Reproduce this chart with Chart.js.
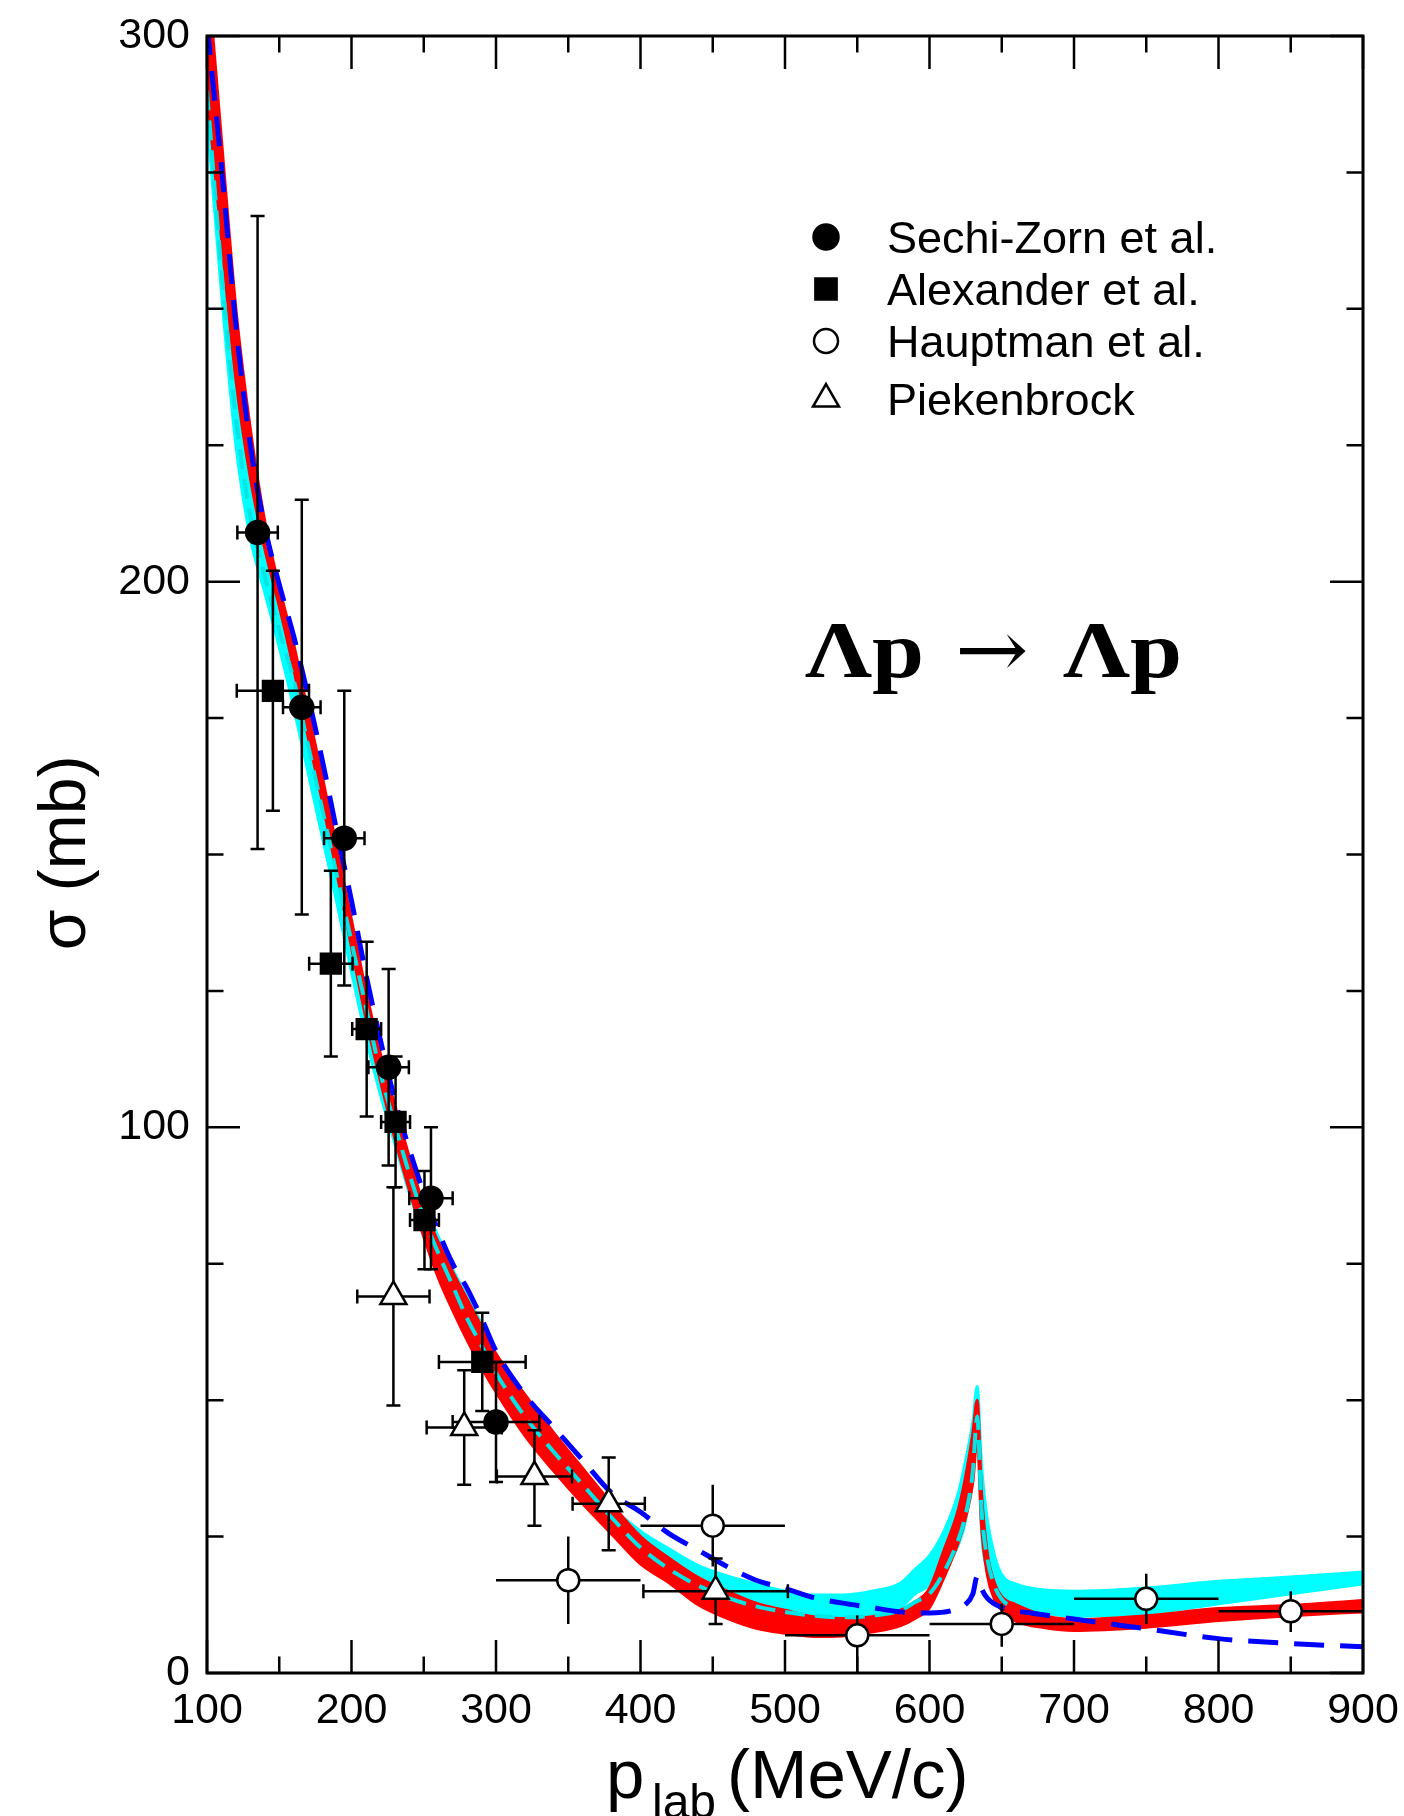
<!DOCTYPE html>
<html>
<head>
<meta charset="utf-8">
<script src="https://cdn.jsdelivr.net/npm/chart.js@4.4.1/dist/chart.umd.min.js"></script>
<style>
	html, body { margin: 0; padding: 0; background: #fff; }
	#wrap { width: 1404px; height: 1816px; position: relative; }
</style>
</head>
<body>
<div id="wrap"><canvas id="sigmaChart"></canvas></div>
<script>
// momentum grid shared by the two bands (MeV/c)
var bandP = [100,110,120,130,140,150,160,170,180,190,200,210,220,230,240,250,260,270,280,290,300,
	320,340,360,380,400,420,440,460,480,500,520,540,560,580,
	590,600,610,620,625,630,633,636,640,645,650,660,680,700,750,800,850,900];

// red band (mb)
var redLow = [290,263,237,219,206,195.5,184,171.5,159.5,146.5,133,120,108.5,98,88.5,80,72.5,66.5,61,56,51.5,
	43.5,37,31,25.5,20,16.5,12.5,10,8.2,7.3,6.7,6.8,7.5,8.7,
	10,12,17.5,24,28.5,35,43,27,18,13.5,11.5,9.5,8.3,7.8,8.4,9.6,10.5,11.2];
var redHigh = [313,281,250,228,211,199,188.5,176,164,151,138,125,113.5,104,94.5,85.5,79,73.5,68.5,63.5,58.5,
	51,44,37.5,31,25,21,17.5,15,12.8,11.5,10.3,10,10.3,11.5,
	13,15.5,22.5,30,36,44,50,33,22,16.5,14,12.5,10.5,9.8,10.5,11.8,12.4,13.3];

// cyan band (mb)
var cyanLow = [285,253,225,208,198,188,177,165,153,141,128.5,116.5,106,97,88,80,74,68.5,63,58,53.5,
	46,39,33,27,22.5,18.5,15.5,13.5,12,11,10.5,10.3,10.8,12,
	14.5,16,19,23.5,28,38,48,26,19,15.5,13.8,12.3,11,10.4,10.9,12.7,14.5,16.3];
var cyanHigh = [293,262,236,217,205,195,184,172,160,148,135.5,123,112,103,94,86,80,74,69,64,58.5,
	51,44,37,30.5,26,22.7,19.7,17.8,16.3,15,14.3,14.3,15,16.5,
	19,21.5,26,33,39,46,52.5,38,28,21.5,18,16.3,15.2,15,15.6,16.8,17.6,18.5];

// thin cyan dashed curve
var cyanDashP = [100,110,120,130,140,150,160,170,180,190,200,210,220,230,240,250,260,270,280,290,300,
	320,340,360,380,400,420,440,460,480,500,520,540,560,580,590,600,610,620,625,630,633,636,640,645,650,660];
var cyanDashS = [290,257,230,212,201,191,182,170,158,146,134,122,110,100.5,91.5,83.5,77,71,65,60,55,
	47,40.5,34.5,28.5,23,19,16,13.8,12.2,11.2,10.5,10.2,10.5,11.5,13,14.5,18.5,24.5,29,37,47,30,21,16,13.5,11.8];

// blue dashed curve
var blueP = [100,110,120,130,140,150,160,170,180,190,200,210,220,230,240,250,260,270,280,290,300,
	320,340,360,380,400,420,440,460,480,500,520,540,560,580,600,
	615,625,630,633,636,640,650,670,700,750,800,850,900];
var blueS = [302,276,247,225,210,199.5,190,179,167,154,141.5,128,116,105,96,88,81,75,70.5,65,59,
	51,45,39,33,29.5,25.5,22.5,19.5,17,15.5,13.8,12.8,12,11.2,11,
	11.4,12.6,14.5,17.7,15.5,13.7,12,11,9.9,8.1,6.3,5.4,4.8];

// experiments: p, sigma, p error, sigma error up / down
var sechiP = [135,165.6,195,225.7,255,300];
var sechiS = [209,177,153,111,87,46];
var sechiDp = [14,13,14,14,15,30];
var sechiUp = [58,38,27,18,13,11];
var sechiDn = [58,38,27,18,13,11];

var alexP = [145.6,185.7,210.5,230.5,250.5,290.5];
var alexS = [180,130,118,101,83,57];
var alexDp = [25,15,10,10,10,30];
var alexUp = [22,17,16,12,9,9];
var alexDn = [22,17,16,12,9,9];

var hauptP = [350,450,550,650,750,850];
var hauptS = [17,27,6.9,9,13.6,11.3];
var hauptDp = [50,50,50,50,50,50];
var hauptUp = [8,7.5,3.7,3.7,4.6,3.7];
var hauptDn = [8,7.5,7,4.2,4.6,3.8];

var piekP = [229,278,326.6,378,452];
var piekS = [69,45,36,31,15];
var piekDp = [25,26,26,25,50];
var piekUp = [20,10.5,8.5,8.5,6];
var piekDn = [20,10.5,9,8.5,6];

var xTicks = [100,200,300,400,500,600,700,800,900];
var yTicks = [0,100,200,300];

var FONT = "'Liberation Sans', Arial, Helvetica, sans-serif";

function pts(xs, ys) {
	return xs.map(function (x, i) { return { x: x, y: ys[i] }; });
}
function expPts(xs, ys, dx, up, dn) {
	return xs.map(function (x, i) { return { x: x, y: ys[i], dx: dx[i], up: up[i], dn: dn[i] }; });
}

function lineSet(label, data, color, width, order, extra) {
	var ds = {
		type: 'line', label: label, data: data,
		borderColor: color, backgroundColor: color, borderWidth: width,
		pointRadius: 0, fill: false, order: order,
		cubicInterpolationMode: 'monotone'
	};
	for (var k in extra) ds[k] = extra[k];
	return ds;
}

function pointSet(label, data, style, radius, fillColor, caps) {
	return {
		type: 'scatter', label: label, data: data, order: 0,
		pointStyle: style, pointRadius: radius, pointHoverRadius: radius,
		pointBackgroundColor: fillColor, pointBorderColor: '#000', pointBorderWidth: 2.5,
		showLine: false, caps: caps, isExp: true
	};
}

var datasets = [
	lineSet('cyanLow', pts(bandP, cyanLow), '#00ffff', 3, 6),
	lineSet('cyanHigh', pts(bandP, cyanHigh), '#00ffff', 3, 5, { fill: '-1' }),
	lineSet('redLow', pts(bandP, redLow), '#ff0000', 3, 4),
	lineSet('redHigh', pts(bandP, redHigh), '#ff0000', 3, 3, { fill: '-1' }),
	lineSet('cyanDash', pts(cyanDashP, cyanDashS), '#00e5e5', 4, 2, { borderDash: [20, 10] }),
	lineSet('blueDash', pts(blueP, blueS), '#0000ff', 5, 1, { borderDash: [30, 16], barsAfter: true }),
	pointSet('Sechi-Zorn et al.', expPts(sechiP, sechiS, sechiDp, sechiUp, sechiDn), 'circle', 11.5, '#000', true),
	pointSet('Alexander et al.', expPts(alexP, alexS, alexDp, alexUp, alexDn), 'rect', 14, '#000', true),
	pointSet('Hauptman et al.', expPts(hauptP, hauptS, hauptDp, hauptUp, hauptDn), 'circle', 11, '#fff', false),
	pointSet('Piekenbrock', expPts(piekP, piekS, piekDp, piekUp, piekDn), 'triangle', 15, '#fff', true)
];

function drawErrorBars(chart) {
	var ctx = chart.ctx, xs = chart.scales.x, ys = chart.scales.y, a = chart.chartArea;
	ctx.save();
	ctx.beginPath();
	ctx.rect(a.left, a.top, a.right - a.left, a.bottom - a.top);
	ctx.clip();
	ctx.strokeStyle = '#000';
	ctx.lineWidth = 2.5;
	chart.data.datasets.forEach(function (ds) {
		if (!ds.isExp) return;
		ds.data.forEach(function (d) {
			var cx = xs.getPixelForValue(d.x), cy = ys.getPixelForValue(d.y);
			var x0 = xs.getPixelForValue(d.x - d.dx), x1 = xs.getPixelForValue(d.x + d.dx);
			var y0 = ys.getPixelForValue(d.y + d.up), y1 = ys.getPixelForValue(d.y - d.dn);
			ctx.beginPath();
			ctx.moveTo(x0, cy); ctx.lineTo(x1, cy);
			ctx.moveTo(cx, y0); ctx.lineTo(cx, y1);
			if (ds.caps) {
				var c = 7;
				ctx.moveTo(x0, cy - c); ctx.lineTo(x0, cy + c);
				ctx.moveTo(x1, cy - c); ctx.lineTo(x1, cy + c);
				ctx.moveTo(cx - c, y0); ctx.lineTo(cx + c, y0);
				ctx.moveTo(cx - c, y1); ctx.lineTo(cx + c, y1);
			}
			ctx.stroke();
		});
	});
	ctx.restore();
}

function drawFrame(chart) {
	var ctx = chart.ctx, xs = chart.scales.x, ys = chart.scales.y, a = chart.chartArea;
	var major = 33, minor = 16.5, v, px;
	ctx.save();
	ctx.strokeStyle = '#000';
	ctx.lineWidth = 2.5;
	ctx.beginPath();
	for (v = 100; v <= 900; v += 50) {
		px = xs.getPixelForValue(v);
		var lx = (v % 100 === 0) ? major : minor;
		ctx.moveTo(px, a.bottom); ctx.lineTo(px, a.bottom - lx);
		ctx.moveTo(px, a.top); ctx.lineTo(px, a.top + lx);
	}
	for (v = 0; v <= 300; v += 25) {
		px = ys.getPixelForValue(v);
		var ly = (v % 100 === 0) ? major : minor;
		ctx.moveTo(a.left, px); ctx.lineTo(a.left + ly, px);
		ctx.moveTo(a.right, px); ctx.lineTo(a.right - ly, px);
	}
	ctx.stroke();
	ctx.lineWidth = 3;
	ctx.strokeRect(a.left, a.top, a.right - a.left, a.bottom - a.top);
	ctx.restore();
}

function drawLegend(chart) {
	var ctx = chart.ctx;
	var rows = [237, 289, 341, 399];
	var sx = 826, tx = 887;
	var styles = [
		{ pointStyle: 'circle', radius: 12.5, fill: '#000' },
		{ pointStyle: 'rect', radius: 15, fill: '#000' },
		{ pointStyle: 'circle', radius: 12, fill: '#fff' },
		{ pointStyle: 'triangle', radius: 15, fill: '#fff' }
	];
	var expSets = chart.data.datasets.filter(function (d) { return d.isExp; });
	ctx.save();
	expSets.forEach(function (ds, i) {
		ctx.fillStyle = styles[i].fill;
		ctx.strokeStyle = '#000';
		ctx.lineWidth = 2.5;
		Chart.helpers.drawPoint(ctx, { pointStyle: styles[i].pointStyle, radius: styles[i].radius, rotation: 0, borderWidth: 2.5 }, sx, rows[i]);
		ctx.fillStyle = '#000';
		ctx.font = '45px ' + FONT;
		ctx.textBaseline = 'alphabetic';
		ctx.textAlign = 'left';
		ctx.fillText(ds.label, tx, rows[i] + 16);
	});
	ctx.restore();
}

function wideText(ctx, text, x, y, sx) {
	ctx.save();
	ctx.translate(x, y);
	ctx.scale(sx, 1);
	ctx.fillText(text, 0, 0);
	ctx.restore();
}

function drawTexts(chart) {
	var ctx = chart.ctx;
	ctx.save();
	ctx.fillStyle = '#000';
	ctx.textBaseline = 'alphabetic';
	ctx.textAlign = 'left';

	// reaction label
	ctx.font = "bold 80px 'Liberation Serif', 'DejaVu Serif', serif";
	wideText(ctx, '\u039Bp', 805, 677, 1.17);
	wideText(ctx, '\u039Bp', 1063, 677, 1.17);
	ctx.font = "80px 'DejaVu Serif', 'Liberation Serif', serif";
	wideText(ctx, '\u2192', 955, 677, 1.1);

	// x axis title with subscript
	ctx.font = '69px ' + FONT;
	ctx.fillText('p', 606, 1798);
	ctx.font = '48px ' + FONT;
	ctx.fillText('lab', 652, 1818);
	ctx.font = '69px ' + FONT;
	ctx.fillText('(MeV/c)', 727, 1798);

	// y axis title
	ctx.translate(85, 853);
	ctx.rotate(-Math.PI / 2);
	ctx.textAlign = 'center';
	ctx.font = '66px ' + FONT;
	ctx.fillText('\u03C3 (mb)', 0, 0);
	ctx.restore();
}

var decorPlugin = {
	id: 'decor',
	afterDatasetDraw: function (chart, args) {
		if (chart.data.datasets[args.index].barsAfter) drawErrorBars(chart);
	},
	afterDraw: function (chart) {
		drawFrame(chart);
		drawLegend(chart);
		drawTexts(chart);
	}
};

var ctx = document.getElementById('sigmaChart').getContext('2d');
new Chart(ctx, {
	type: 'scatter',
	data: { datasets: datasets },
	plugins: [decorPlugin],
	options: {
		responsive: true,
		maintainAspectRatio: false,
		animation: false,
		events: [],
		layout: { padding: { top: 36, right: 41, left: 0, bottom: 0 } },
		plugins: {
			legend: { display: false },
			tooltip: { enabled: false },
			filler: { propagate: false }
		},
		scales: {
			x: {
				type: 'linear', min: 100, max: 900,
				afterFit: function (s) { s.height = 143; s.paddingLeft = 0; s.paddingRight = 0; },
				afterBuildTicks: function (s) { s.ticks = xTicks.map(function (v) { return { value: v }; }); },
				grid: { display: false, drawTicks: false },
				border: { display: false },
				ticks: { color: '#000', padding: 12, maxRotation: 0, autoSkip: false, font: { family: FONT, size: 43 } }
			},
			y: {
				type: 'linear', min: 0, max: 300,
				afterFit: function (s) { s.width = 207; s.paddingTop = 0; s.paddingBottom = 0; },
				afterBuildTicks: function (s) { s.ticks = yTicks.map(function (v) { return { value: v }; }); },
				grid: { display: false, drawTicks: false },
				border: { display: false },
				ticks: { color: '#000', padding: 17, font: { family: FONT, size: 43 } }
			}
		}
	}
});
</script>
</body>
</html>
